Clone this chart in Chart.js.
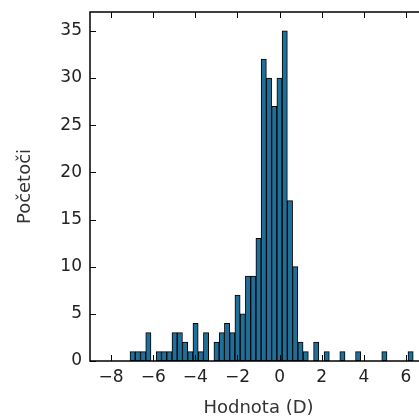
<!DOCTYPE html>
<html>
<head>
<meta charset="utf-8">
<script src="https://cdn.jsdelivr.net/npm/chart.js@4/dist/chart.umd.min.js"></script>
<style>
	html, body { margin:0; padding:0; background:#fff; overflow:hidden; }
	#wrap { width:419px; height:418px; overflow:hidden; position:relative; }
	#histChart { position:absolute; left:0; top:0; }
</style>
</head>
<body>
<div id="wrap"><canvas id="histChart" width="430" height="418"></canvas></div>
<script>
//histogram bins
var binStart = -7.1;
var binWidth = 0.249;
var counts = [1,1,1,3,0,1,1,1,3,3,2,1,4,1,3,0,2,3,4,3,7,5,9,9,13,32,30,27,30,35,17,10,2,1,0,2,0,1,0,0,1,0,0,1,0,0,0,0,1,0,0,0,0,1];
//tick labels
var xTicks = [-8,-6,-4,-2,0,2,4,6];
var yTicks = [0,5,10,15,20,25,30,35];
var xLabel = 'Hodnota (D)';
var yLabel = 'Početoči';

//bin centers -> points for the bar chart
var points = counts.map(function(c, i){
	return {x: binStart + (i + 0.5) * binWidth, y: c};
});

//frame + inward ticks like matplotlib
var framePlugin = {
	id: 'frame',
	afterDatasetsDraw: function(chart){
		var ctx = chart.ctx, a = chart.chartArea, x = chart.scales.x, y = chart.scales.y;
		function line(x1, y1, x2, y2){ ctx.beginPath(); ctx.moveTo(x1, y1); ctx.lineTo(x2, y2); ctx.stroke(); }
		ctx.save();
		ctx.strokeStyle = '#000';
		ctx.lineWidth = 1;
		yTicks.forEach(function(v){
			var p = Math.round(y.getPixelForValue(v)) + 0.5;
			line(a.left, p, a.left + 6, p);
			line(a.right, p, a.right - 6, p);
		});
		xTicks.forEach(function(v){
			var p = Math.round(x.getPixelForValue(v)) + 0.5;
			line(p, a.bottom, p, a.bottom - 6);
			line(p, a.top, p, a.top + 6);
		});
		ctx.lineWidth = 1.5;
		ctx.strokeRect(a.left, a.top, a.right - a.left, a.bottom - a.top);
		ctx.restore();
	}
};

var tickFont = {family: 'DejaVu Sans', size: 17};
var titleFont = {family: 'DejaVu Sans', size: 18, lineHeight: 1};

var histChart = new Chart(document.getElementById('histChart'), {
	type: 'bar',
	data: {
		datasets: [{
			data: points,
			backgroundColor: '#1f6f99',
			borderColor: '#000000',
			borderWidth: 1,
			barPercentage: 1,
			categoryPercentage: 1,
			borderSkipped: false
		}]
	},
	options: {
		responsive: false,
		animation: false,
		devicePixelRatio: 1,
		layout: { padding: {top: 12, right: 3, left: 0, bottom: 0} },
		plugins: {
			legend: { display: false },
			tooltip: { enabled: false }
		},
		scales: {
			x: {
				type: 'linear',
				offset: false,
				min: -9,
				max: 7,
				grid: { display: false, drawTicks: false, offset: false },
				border: { display: false },
				afterBuildTicks: function(s){ s.ticks = xTicks.map(function(v){ return {value: v}; }); },
				afterFit: function(s){ s.height = 57; s.paddingLeft = 0; s.paddingRight = 0; },
				ticks: {
					font: tickFont,
					color: '#222',
					padding: 6,
					maxRotation: 0,
					autoSkip: false,
					callback: function(v){ return String(v).replace('-', '\u2212'); }
				},
				title: { display: true, text: xLabel, font: titleFont, color: '#333', padding: {top: 0, bottom: 1} }
			},
			y: {
				min: 0,
				max: 37,
				grid: { display: false, drawTicks: false },
				border: { display: false },
				afterBuildTicks: function(s){ s.ticks = yTicks.map(function(v){ return {value: v}; }); },
				afterFit: function(s){ s.width = 90; s.paddingTop = 0; s.paddingBottom = 0; },
				ticks: { font: tickFont, color: '#222', padding: 8, autoSkip: false },
				title: { display: true, text: yLabel, font: titleFont, color: '#333', padding: {top: 16, bottom: 0} }
			}
		}
	},
	plugins: [framePlugin]
});
</script>
</body>
</html>
